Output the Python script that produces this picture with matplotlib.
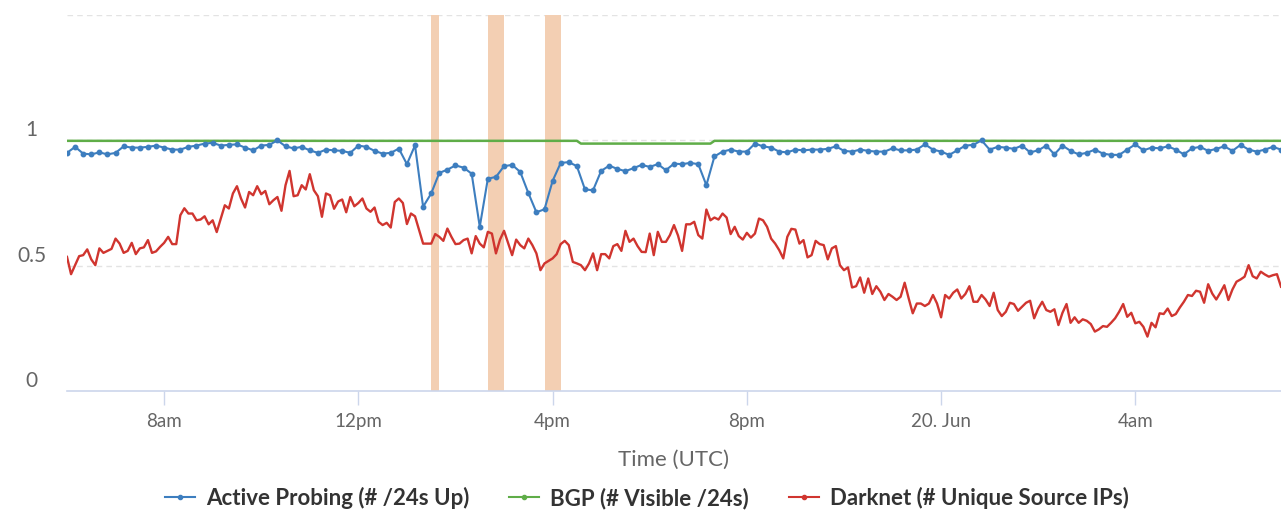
import matplotlib
matplotlib.use("Agg")
import matplotlib.pyplot as plt
import matplotlib.transforms as mtransforms
from matplotlib.lines import Line2D
import pandas as pd

plt.rcParams['font.family'] = ['Lato', 'DejaVu Sans']

# Active Probing, one value every 10 minutes from 06:00
probing = [
    0.950, 0.974, 0.947, 0.944, 0.952, 0.944, 0.950, 0.976, 0.971, 0.971,
    0.974, 0.979, 0.971, 0.963, 0.963, 0.974, 0.979, 0.987, 0.990, 0.979,
    0.982, 0.984, 0.971, 0.960, 0.979, 0.982, 1.000, 0.976, 0.968, 0.974,
    0.960, 0.950, 0.963, 0.960, 0.958, 0.950, 0.979, 0.974, 0.958, 0.947,
    0.950, 0.967, 0.905, 0.980, 0.735, 0.788, 0.870, 0.883, 0.900, 0.891,
    0.867, 0.655, 0.847, 0.854, 0.897, 0.902, 0.874, 0.790, 0.713, 0.725,
    0.838, 0.910, 0.913, 0.897, 0.804, 0.801, 0.878, 0.899, 0.886, 0.877,
    0.889, 0.902, 0.894, 0.905, 0.881, 0.907, 0.905, 0.910, 0.905, 0.821,
    0.936, 0.955, 0.963, 0.955, 0.955, 0.987, 0.976, 0.971, 0.955, 0.952,
    0.963, 0.960, 0.963, 0.963, 0.966, 0.976, 0.958, 0.955, 0.963, 0.958,
    0.955, 0.955, 0.968, 0.960, 0.960, 0.963, 0.984, 0.963, 0.955, 0.942,
    0.960, 0.979, 0.982, 1.000, 0.963, 0.974, 0.971, 0.966, 0.979, 0.952,
    0.960, 0.979, 0.944, 0.979, 0.958, 0.944, 0.950, 0.963, 0.947, 0.942,
    0.942, 0.963, 0.984, 0.960, 0.971, 0.968, 0.976, 0.963, 0.944, 0.968,
    0.974, 0.958, 0.966, 0.976, 0.958, 0.982, 0.963, 0.955, 0.963, 0.974,
    0.963,
]

# Darknet, one value every 5 minutes from 06:00
darknet = [
    0.535, 0.466, 0.502, 0.538, 0.542, 0.565, 0.525, 0.502, 0.569, 0.551,
    0.559, 0.567, 0.608, 0.588, 0.551, 0.559, 0.591, 0.546, 0.569, 0.573,
    0.602, 0.551, 0.557, 0.575, 0.591, 0.615, 0.586, 0.586, 0.701, 0.729,
    0.708, 0.708, 0.681, 0.684, 0.697, 0.665, 0.681, 0.634, 0.688, 0.741,
    0.728, 0.788, 0.817, 0.768, 0.732, 0.794, 0.781, 0.817, 0.785, 0.798,
    0.745, 0.761, 0.774, 0.719, 0.821, 0.878, 0.777, 0.781, 0.821, 0.804,
    0.865, 0.801, 0.777, 0.695, 0.788, 0.781, 0.727, 0.756, 0.764, 0.713,
    0.774, 0.737, 0.750, 0.768, 0.728, 0.715, 0.732, 0.675, 0.662, 0.671,
    0.652, 0.754, 0.768, 0.750, 0.666, 0.708, 0.697, 0.642, 0.588, 0.588,
    0.588, 0.626, 0.615, 0.599, 0.648, 0.615, 0.586, 0.588, 0.602, 0.608,
    0.549, 0.618, 0.588, 0.573, 0.635, 0.628, 0.549, 0.604, 0.639, 0.591,
    0.542, 0.604, 0.582, 0.569, 0.608, 0.582, 0.549, 0.482, 0.509, 0.519,
    0.529, 0.546, 0.586, 0.599, 0.582, 0.515, 0.509, 0.502, 0.482, 0.509,
    0.549, 0.482, 0.546, 0.546, 0.529, 0.578, 0.586, 0.559, 0.639, 0.595,
    0.608, 0.578, 0.555, 0.554, 0.628, 0.542, 0.635, 0.595, 0.595, 0.622,
    0.662, 0.620, 0.559, 0.665, 0.665, 0.675, 0.622, 0.608, 0.724, 0.681,
    0.692, 0.684, 0.708, 0.692, 0.626, 0.655, 0.618, 0.604, 0.631, 0.612,
    0.628, 0.688, 0.681, 0.655, 0.608, 0.588, 0.562, 0.529, 0.615, 0.647,
    0.644, 0.588, 0.602, 0.533, 0.542, 0.599, 0.586, 0.582, 0.525, 0.569,
    0.578, 0.502, 0.482, 0.493, 0.413, 0.418, 0.453, 0.392, 0.449, 0.387,
    0.418, 0.396, 0.363, 0.387, 0.376, 0.363, 0.376, 0.432, 0.369, 0.310,
    0.349, 0.349, 0.339, 0.349, 0.383, 0.349, 0.294, 0.383, 0.369, 0.392,
    0.405, 0.369, 0.387, 0.418, 0.356, 0.356, 0.383, 0.365, 0.339, 0.392,
    0.323, 0.299, 0.316, 0.352, 0.347, 0.320, 0.336, 0.352, 0.360, 0.290,
    0.329, 0.356, 0.323, 0.316, 0.326, 0.263, 0.312, 0.347, 0.272, 0.294,
    0.272, 0.286, 0.280, 0.267, 0.237, 0.246, 0.259, 0.256, 0.272, 0.290,
    0.316, 0.347, 0.296, 0.312, 0.270, 0.276, 0.256, 0.217, 0.272, 0.254,
    0.310, 0.307, 0.329, 0.299, 0.307, 0.333, 0.356, 0.383, 0.379, 0.400,
    0.396, 0.352, 0.426, 0.389, 0.365, 0.392, 0.422, 0.363, 0.405, 0.436,
    0.445, 0.456, 0.502, 0.458, 0.449, 0.476, 0.465, 0.456, 0.462, 0.466,
    0.416,
]

# BGP is flat except for one small dip
bgp_times = ['2019-06-19 06:00', '2019-06-19 16:30', '2019-06-19 16:35',
             '2019-06-19 19:15', '2019-06-19 19:20', '2019-06-20 07:00']
bgp = [0.998, 0.998, 0.987, 0.987, 0.998, 0.998]

# outage windows (shaded)
outages = [('2019-06-19 13:30', '2019-06-19 13:40'),
           ('2019-06-19 14:40', '2019-06-19 15:00'),
           ('2019-06-19 15:50', '2019-06-19 16:10')]

tick_times = ['2019-06-19 08:00', '2019-06-19 12:00', '2019-06-19 16:00',
              '2019-06-19 20:00', '2019-06-20 00:00', '2019-06-20 04:00']
tick_labels = ['8am', '12pm', '4pm', '8pm', '20. Jun', '4am']

y_ticks = [0, 0.5, 1]
y_labels = ['0', '0.5', '1']

c_probe = '#3d7ebf'
c_bgp = '#5fad48'
c_dark = '#d0352f'

t_probe = pd.date_range('2019-06-19 06:00', periods=len(probing), freq='10min')
t_dark = pd.date_range('2019-06-19 06:00', periods=len(darknet), freq='5min')

fig = plt.figure(figsize=(12.81, 5.12), dpi=100)
ax = fig.add_axes([67 / 1281, 121 / 512, 1214 / 1281, 376 / 512])

for a, b in outages:
    ax.axvspan(pd.Timestamp(a), pd.Timestamp(b), color='#f3cfb3', lw=0, zorder=1)

for g in [0.5, 1, 1.5]:
    ax.axhline(g, color='#e3e3e3', lw=1, ls=(0, (4, 3)), zorder=0)

ax.plot(t_dark, darknet, color=c_dark, lw=1.7, zorder=3)
ax.plot(pd.to_datetime(bgp_times), bgp, color=c_bgp, lw=1.8, zorder=3)
ax.plot(t_probe, probing, color=c_probe, lw=1.5, marker='o', ms=3.2, zorder=4)

ax.set_xlim(pd.Timestamp('2019-06-19 06:00'), pd.Timestamp('2019-06-20 07:00'))
ax.set_ylim(0, 1.5)

for s in ['top', 'right', 'left']:
    ax.spines[s].set_visible(False)
ax.spines['bottom'].set_color('#ccd6eb')
ax.spines['bottom'].set_linewidth(1.2)

ax.set_xticks(pd.to_datetime(tick_times))
ax.set_xticklabels(tick_labels)
ax.tick_params(axis='x', length=10, width=1, color='#ccd6eb', pad=6,
               labelsize=13.5, labelcolor='#666666')
ax.set_yticks([])

lbl_tr = mtransforms.offset_copy(ax.get_yaxis_transform(), fig=fig, y=10, units='dots')
for v, s in zip(y_ticks, y_labels):
    ax.text(-0.029, v, s, transform=lbl_tr, ha='center', va='center',
            fontsize=15, color='#666666')

ax.set_xlabel('Time (UTC)', fontsize=16, color='#666666', labelpad=14)

handles = [
    Line2D([], [], color=c_probe, lw=1.5, marker='o', ms=3),
    Line2D([], [], color=c_bgp, lw=1.5, marker='o', ms=3),
    Line2D([], [], color=c_dark, lw=1.5, marker='o', ms=3),
]
names = ['Active Probing (# /24s Up)', 'BGP (# Visible /24s)',
         'Darknet (# Unique Source IPs)']
leg = fig.legend(handles, names, loc='center', bbox_to_anchor=(0.505, 14 / 512),
                 ncol=3, frameon=False, handlelength=1.35, handletextpad=0.5,
                 columnspacing=1.8, prop={'weight': 'bold', 'size': 16})
for t in leg.get_texts():
    t.set_color('#333333')

fig.savefig('out.png', dpi=100)
